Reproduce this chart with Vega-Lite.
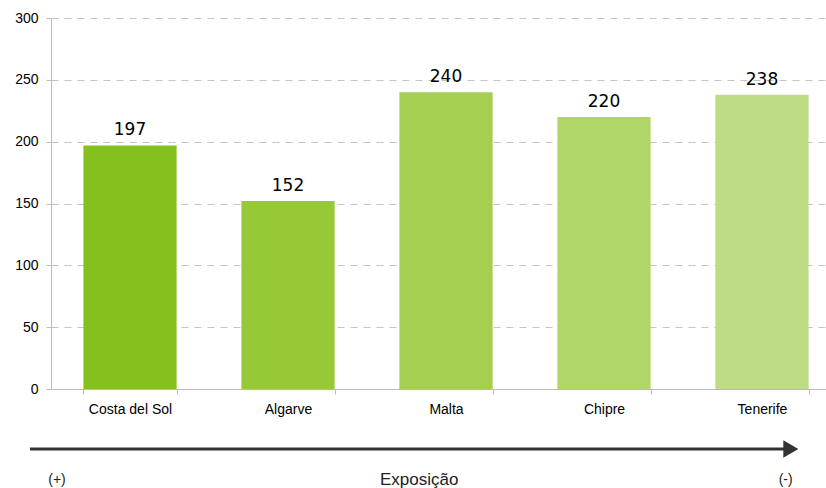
{
  "$schema": "https://vega.github.io/schema/vega-lite/v6.json",
  "autosize": "none",
  "width": 775,
  "height": 371,
  "padding": {"left": 51, "top": 18, "right": 0, "bottom": 99},
  "background": "white",
  "config": {"view": {"stroke": null}},
  "layer": [
    {
      "data": {"values": [
        {"regiao": "Costa del Sol", "valor": 197, "cor": "#85C11E"},
        {"regiao": "Algarve", "valor": 152, "cor": "#96C837"},
        {"regiao": "Malta", "valor": 240, "cor": "#A4CF51"},
        {"regiao": "Chipre", "valor": 220, "cor": "#B0D66A"},
        {"regiao": "Tenerife", "valor": 238, "cor": "#BEDC84"}
      ]},
      "encoding": {
        "x": {"field": "regiao", "type": "nominal", "sort": null,
          "scale": {"paddingInner": 0.41, "paddingOuter": 0.205, "range": [0, 790]},
          "axis": {"title": null, "labelAngle": 0, "labelFont": "Liberation Sans", "labelFontSize": 14, "labelColor": "#000000", "labelPadding": 8, "domainColor": "#BBBBBB", "tickColor": "#BBBBBB", "tickSize": 5, "tickBand": "extent", "ticks": true}},
        "y": {"field": "valor", "type": "quantitative",
          "scale": {"domain": [0, 300]},
          "axis": {"title": null, "values": [0, 50, 100, 150, 200, 250, 300], "labelFont": "Liberation Sans", "labelFontSize": 14, "labelColor": "#000000", "labelPadding": 8, "domainColor": "#BBBBBB", "tickColor": "#BBBBBB", "tickSize": 5, "gridColor": "#C4C4C4", "gridDash": [7, 6], "gridWidth": 1}}
      },
      "layer": [
        {"mark": {"type": "bar"}, "encoding": {"color": {"field": "cor", "type": "nominal", "scale": null}}},
        {"mark": {"type": "text", "dy": -15, "font": "DejaVu Sans", "fontSize": 17, "color": "#000000"}, "encoding": {"text": {"field": "valor", "type": "quantitative"}}}
      ]
    },
    {
      "data": {"values": [{"x0": -0.0266, "x1": 0.935, "y": -48.5}]},
      "mark": {"type": "rule", "color": "#333333", "strokeWidth": 3, "clip": false},
      "encoding": {
        "x": {"field": "x0", "type": "quantitative", "scale": {"domain": [0, 1], "range": [0, 790]}, "axis": null},
        "x2": {"field": "x1"},
        "y": {"field": "y", "type": "quantitative"}
      }
    },
    {
      "data": {"values": [{"x": 0.9365, "y": -48.5}]},
      "mark": {"type": "point", "shape": "triangle-right", "filled": true, "color": "#333333", "size": 300, "opacity": 1, "clip": false},
      "encoding": {
        "x": {"field": "x", "type": "quantitative", "scale": {"domain": [0, 1], "range": [0, 790]}, "axis": null},
        "y": {"field": "y", "type": "quantitative"}
      }
    },
    {
      "data": {"values": [
        {"x": 0.0076, "y": -73.5, "t": "(+)", "s": 14},
        {"x": 0.466, "y": -73.5, "t": "Exposição", "s": 17},
        {"x": 0.93, "y": -73.5, "t": "(-)", "s": 14}
      ]},
      "mark": {"type": "text", "font": "Liberation Sans", "color": "#222222", "baseline": "middle", "clip": false},
      "encoding": {
        "x": {"field": "x", "type": "quantitative", "scale": {"domain": [0, 1], "range": [0, 790]}, "axis": null},
        "y": {"field": "y", "type": "quantitative"},
        "text": {"field": "t"},
        "size": {"field": "s", "type": "quantitative", "scale": null}
      }
    }
  ],
  "resolve": {"scale": {"x": "independent"}}
}
